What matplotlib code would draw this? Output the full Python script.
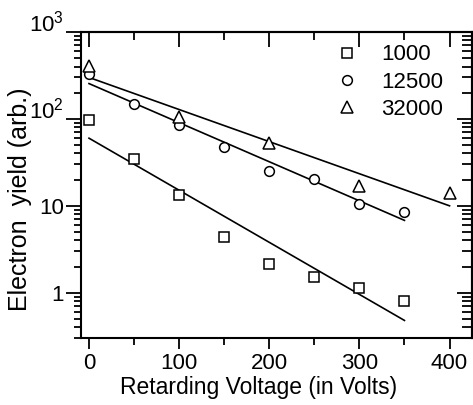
import matplotlib
matplotlib.use("Agg")
import matplotlib.pyplot as plt
from matplotlib.ticker import FixedLocator, LogLocator, NullFormatter

plt.rcParams.update({"font.family": ["Liberation Sans", "DejaVu Sans"], "mathtext.fontset": "custom",
                     "mathtext.rm": "Liberation Sans", "mathtext.it": "Liberation Sans"})

# ---- data ----
v_1000 = [0, 50, 100, 150, 200, 250, 300, 350]
y_1000 = [98, 35, 13.4, 4.4, 2.15, 1.5, 1.12, 0.81]
v_12500 = [0, 50, 100, 150, 200, 250, 300, 350]
y_12500 = [330, 148, 85, 48, 25, 20.5, 10.5, 8.4]
v_32000 = [0, 100, 200, 300, 400]
y_32000 = [410, 106, 53, 17, 14]

# fitted lines (end points)
fit_1000_x = [0, 350];  fit_1000_y = [60, 0.48]
fit_12500_x = [0, 350]; fit_12500_y = [255, 6.8]
fit_32000_x = [0, 400]; fit_32000_y = [300, 10]

xticks = [0, 100, 200, 300, 400]
xminor = [50, 150, 250, 350]
yticks = [1, 10, 100, 1000]
ylabels = ["1", "10", r"$10^2$", r"$10^3$"]

fig = plt.figure(figsize=(4.73, 4.05), dpi=100)
ax = fig.add_axes([0.171, 0.165, 0.827, 0.756])

for fx, fy in ((fit_1000_x, fit_1000_y), (fit_12500_x, fit_12500_y), (fit_32000_x, fit_32000_y)):
    ax.plot(fx, fy, color="black", lw=1.2, zorder=2)

mk = dict(ls="none", mfc="white", mec="black", mew=1.1, zorder=3)
ax.plot(v_1000, y_1000, marker="s", ms=6.5, label="1000", **mk)
ax.plot(v_12500, y_12500, marker="o", ms=7, label="12500", **mk)
ax.plot(v_32000, y_32000, marker="^", ms=8.5, label="32000", **mk)

ax.set_yscale("log")
ax.set_xlim(-9, 425)
ax.set_ylim(0.3, 1000)
ax.set_xticks(xticks)
ax.xaxis.set_minor_locator(FixedLocator(xminor))
ax.set_yticks(yticks, ylabels)
ax.yaxis.set_minor_locator(LogLocator(base=10, subs=range(2, 10)))
ax.yaxis.set_minor_formatter(NullFormatter())
for t in ax.get_yticklabels():
    if "^" in t.get_text():
        t.set_va("baseline")

# outward ticks on left/bottom, inward mirrored ticks on top/right
ax.tick_params(which="both", direction="out", width=1.3, labelsize=16, colors="black")
ax.tick_params(which="major", length=8, pad=3)
ax.tick_params(which="minor", length=5)
ax.tick_params(axis="y", which="major", length=11, pad=1)
sec_x = ax.secondary_xaxis("top")
sec_x.set_xticks(xticks, [])
sec_x.xaxis.set_minor_locator(FixedLocator(xminor))
sec_x.tick_params(which="both", direction="in", width=1.3)
sec_x.tick_params(which="major", length=11)
sec_x.tick_params(which="minor", length=6)
sec_y = ax.secondary_yaxis("right")
sec_y.set_yticks(yticks, [])
sec_y.yaxis.set_minor_locator(LogLocator(base=10, subs=range(2, 10)))
sec_y.yaxis.set_minor_formatter(NullFormatter())
sec_y.tick_params(which="both", direction="in", width=1.3)
sec_y.tick_params(which="major", length=11)
sec_y.tick_params(which="minor", length=7)
for s in list(ax.spines.values()) + [sec_x.spines["top"], sec_y.spines["right"]]:
    s.set_linewidth(1.5)

ax.set_xlabel("Retarding Voltage (in Volts)", fontsize=16.5)
ax.xaxis.set_label_coords(0.453, -0.122)
ax.set_ylabel("Electron  yield (arb.)", fontsize=18)
ax.yaxis.set_label_coords(-0.125, 0.454)

ax.legend(loc="upper right", bbox_to_anchor=(0.965, 1.01), frameon=False, fontsize=16,
          handletextpad=1.0, labelspacing=0.28, borderaxespad=0.3, handlelength=1.0)

fig.savefig("out.png", dpi=100)
